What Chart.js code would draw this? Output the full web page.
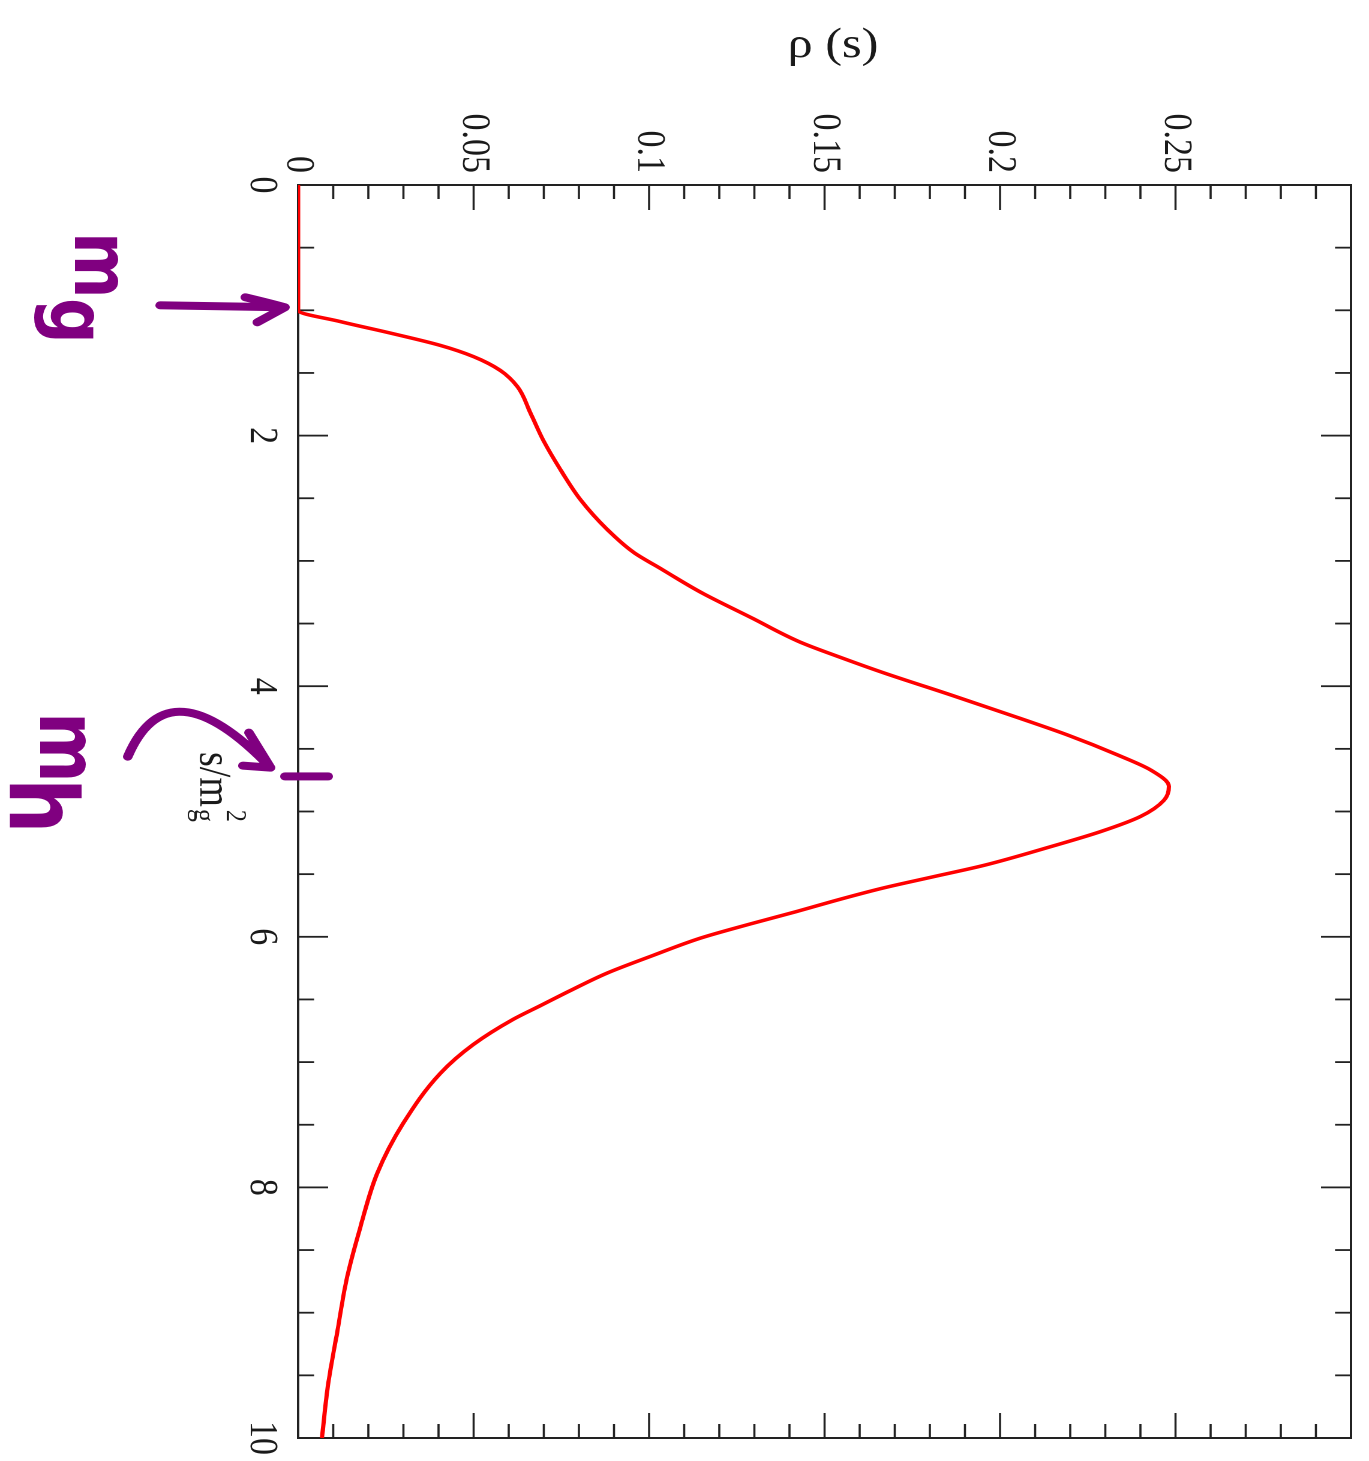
<!DOCTYPE html>
<html>
<head>
<meta charset="utf-8">
<title>rho(s)</title>
<script src="https://cdn.jsdelivr.net/npm/chart.js@4.4.1/dist/chart.umd.min.js"></script>
<style>
  html, body { margin: 0; padding: 0; background: #fff; }
  body { width: 1369px; height: 1461px; overflow: hidden; position: relative; }
  /* the figure is printed sideways: draw it upright, then turn it a quarter clockwise */
  #wrap {
    position: absolute; left: 0; top: 0;
    width: 1461px; height: 1141px;
    transform-origin: 0 0;
    transform: translate(1369px, 0) rotate(90deg) scale(1, 1.19983);
  }
</style>
</head>
<body>
<div id="wrap"><canvas id="chart" width="1461" height="1141"></canvas></div>
<script>
// spectral density
const sValues   = [0, 1.0, 1.09, 1.18, 1.28, 1.37, 1.48, 1.61, 1.82, 2.04, 2.27, 2.51, 2.75, 2.93, 3.06,
                   3.25, 3.45, 3.65, 3.78, 3.89, 4.07, 4.25, 4.39, 4.55, 4.67, 4.80, 4.91, 5.04, 5.16,
                   5.28, 5.43, 5.52, 5.61, 5.70, 5.80, 5.90, 6.01, 6.15, 6.29, 6.43, 6.55, 6.66, 6.86,
                   7.09, 7.49, 7.89, 8.32, 8.71, 9.16, 9.56, 10.0];
const rhoValues = [0, 0, 0.012, 0.026, 0.0405, 0.050, 0.0576, 0.0625, 0.0662, 0.0699, 0.0747, 0.0804, 0.0881, 0.0955, 0.1032,
                   0.1147, 0.1289, 0.1432, 0.1555, 0.1665, 0.186, 0.205, 0.2193, 0.2336, 0.243, 0.2481, 0.2467, 0.240, 0.2287,
                   0.2145, 0.1954, 0.1811, 0.1668, 0.1545, 0.1418, 0.1285, 0.1147, 0.1010, 0.0880, 0.0775, 0.0690, 0.0612, 0.0499,
                   0.0405, 0.0299, 0.0225, 0.0177, 0.014, 0.0111, 0.0086, 0.0068];

const sTicks   = [0, 2, 4, 6, 8, 10];
const rhoTicks = [0, 0.05, 0.1, 0.15, 0.2, 0.25];

const mgAt = 1.0;    // s where the m_g arrow points
const mhAt = 4.65;   // s where the m_h arrow points
const mhMark = 4.72; // s of the hand drawn mark on the axis

const serif = '"Liberation Serif", "DejaVu Serif", serif';
const hand = '"DejaVu Sans", sans-serif';
const purple = '#800080';

// frame with inward ticks on all four sides, like the original
const frameTicks = {
    id: 'frameTicks',
    beforeDatasetsDraw(chart) {
        const { ctx, chartArea: a, scales: { x, y } } = chart;
        ctx.save();
        ctx.strokeStyle = '#222';
        ctx.lineWidth = 2;
        ctx.strokeRect(a.left, a.top, a.right - a.left, a.bottom - a.top);
        ctx.lineWidth = 1.8;
        const line = (x0, y0, x1, y1) => { ctx.beginPath(); ctx.moveTo(x0, y0); ctx.lineTo(x1, y1); ctx.stroke(); };
        for (let i = 0; i <= 30; i++) {
            const py = y.getPixelForValue(i / 100);
            const len = i % 5 === 0 ? 25 : 14;
            line(a.left, py, a.left + len, py);
            line(a.right, py, a.right - len, py);
        }
        for (let i = 0; i <= 20; i++) {
            const px = x.getPixelForValue(i / 2);
            const len = i % 4 === 0 ? 25 : 13.3;
            line(px, a.bottom, px, a.bottom - len);
            line(px, a.top, px, a.top + len);
        }
        ctx.restore();
    }
};

// axis titles and the purple handwriting
const notes = {
    id: 'notes',
    afterDraw(chart) {
        const { ctx, chartArea: a, scales: { x, y } } = chart;
        const axisY = y.getPixelForValue(0);
        ctx.save();

        // y title
        ctx.save();
        ctx.translate(46, (a.top + a.bottom) / 2 - 7);
        ctx.rotate(-Math.PI / 2);
        ctx.fillStyle = '#1a1a1a';
        ctx.font = '42px ' + serif;
        ctx.textAlign = 'center';
        ctx.textBaseline = 'middle';
        ctx.fillText('ρ (s)', 0, 0);
        ctx.restore();

        // x title  s/m_g^2
        ctx.fillStyle = '#1a1a1a';
        ctx.textAlign = 'left';
        ctx.textBaseline = 'alphabetic';
        const tx = 752, ty = axisY + 81.5;
        ctx.font = '38px ' + serif;
        ctx.fillText('s/m', tx, ty);
        const w = ctx.measureText('s/m').width;
        ctx.font = '26px ' + serif;
        ctx.fillText('g', tx + w + 2, ty + 5);
        ctx.font = '24px ' + serif;
        ctx.fillText('2', tx + w + 3, ty - 22);

        // handwriting
        ctx.fillStyle = purple;
        ctx.strokeStyle = purple;
        ctx.lineWidth = 8;
        ctx.lineCap = 'round';
        ctx.lineJoin = 'round';

        ctx.font = 'bold 64px ' + hand;
        ctx.fillText('m', 232, axisY + 186);
        ctx.fillText('g', 298, axisY + 206);

        ctx.font = 'bold 68px ' + hand;
        ctx.fillText('m', 712, axisY + 215);
        ctx.font = 'bold 78px ' + hand;
        ctx.fillText('h', 778, axisY + 240);

        // arrow to m_g
        let tx0 = x.getPixelForValue(mgAt) - 3, ty0 = axisY + 11;
        ctx.beginPath();
        ctx.moveTo(tx0 - 2, ty0 + 104);
        ctx.lineTo(tx0, ty0);
        ctx.moveTo(tx0 - 10, ty0 + 33);
        ctx.quadraticCurveTo(tx0 - 4, ty0 + 12, tx0, ty0);
        ctx.lineTo(tx0 + 15, ty0 + 23);
        ctx.stroke();

        // arrow to m_h
        tx0 = x.getPixelForValue(mhAt); ty0 = axisY + 23;
        ctx.beginPath();
        ctx.moveTo(tx0 - 11, ty0 + 119);
        ctx.quadraticCurveTo(tx0 - 106, ty0 + 85, tx0, ty0);
        ctx.moveTo(tx0 - 35, ty0 + 18);
        ctx.lineTo(tx0, ty0);
        ctx.lineTo(tx0 - 2, ty0 + 23);
        ctx.stroke();

        // mark on the axis
        const mx = x.getPixelForValue(mhMark);
        ctx.beginPath();
        ctx.moveTo(mx, axisY - 25);
        ctx.lineTo(mx, axisY + 11);
        ctx.stroke();

        ctx.restore();
    }
};

const ctx = document.getElementById('chart').getContext('2d');
new Chart(ctx, {
    type: 'line',
    data: {
        datasets: [{
            data: sValues.map((s, i) => ({ x: s, y: rhoValues[i] })),
            borderColor: '#ff0000',
            borderWidth: 3.5,
            pointRadius: 0,
            fill: false,
            cubicInterpolationMode: 'monotone'
        }]
    },
    options: {
        responsive: false,
        animation: false,
        devicePixelRatio: 2,
        layout: { padding: { top: 15, right: 23, left: 0, bottom: 0 } },
        plugins: { legend: { display: false }, tooltip: { enabled: false } },
        scales: {
            x: {
                type: 'linear',
                min: 0, max: 10,
                grid: { display: false, drawTicks: false },
                border: { display: false },
                afterBuildTicks: s => { s.ticks = sTicks.map(v => ({ value: v })); },
                afterFit: s => { s.height = 248.5; s.paddingLeft = 0; s.paddingRight = 0; },
                ticks: {
                    autoSkip: false, maxRotation: 0, minRotation: 0,
                    padding: 10,
                    color: '#1a1a1a',
                    font: { family: serif, size: 34 },
                    callback: v => String(v)
                }
            },
            y: {
                type: 'linear',
                min: 0, max: 0.3,
                grid: { display: false, drawTicks: false },
                border: { display: false },
                afterBuildTicks: s => { s.ticks = rhoTicks.map(v => ({ value: v })); },
                afterFit: s => { s.width = 185; s.paddingTop = 0; s.paddingBottom = 0; },
                ticks: {
                    autoSkip: false,
                    padding: 12,
                    color: '#1a1a1a',
                    font: { family: serif, size: 34 },
                    callback: v => String(v)
                }
            }
        }
    },
    plugins: [frameTicks, notes]
});
</script>
</body>
</html>
